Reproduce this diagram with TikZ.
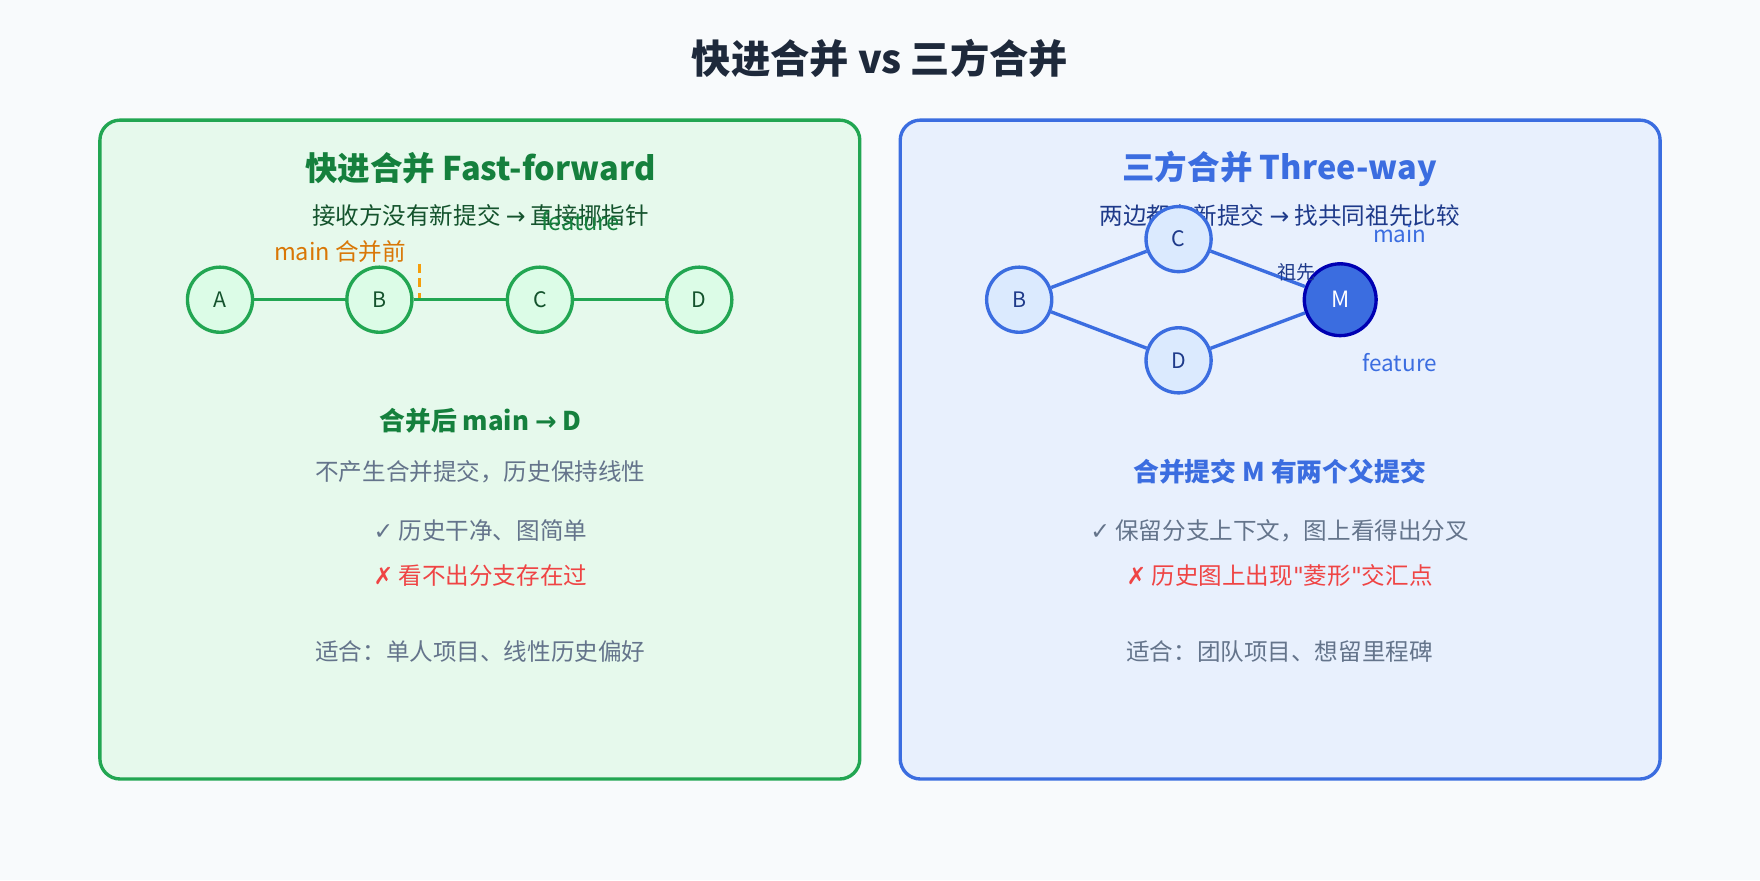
\documentclass[tikz,border=0pt]{standalone}
\usepackage{fontspec}
\setmainfont{Noto Sans CJK SC}
\newfontfamily\sym{DejaVu Sans}
\definecolor{bg}{HTML}{F8FAFC}
\definecolor{gr}{HTML}{22A652}
\definecolor{grf}{HTML}{E6F9EC}
\definecolor{grd}{HTML}{15803D}
\definecolor{grdd}{HTML}{14532D}
\definecolor{bl}{HTML}{3B6DE0}
\definecolor{blf}{HTML}{E8F0FD}
\definecolor{bld}{HTML}{1E3A8A}
\definecolor{bln}{HTML}{DBEAFE}
\definecolor{grn}{HTML}{DCFCE7}
\definecolor{gy}{HTML}{64748B}
\definecolor{rd}{HTML}{EF4444}
\definecolor{org}{HTML}{D97706}
\definecolor{orl}{HTML}{F59E0B}
\definecolor{navy}{HTML}{1E293B}
\newcommand{\fs}[1]{\fontsize{#1}{#1}\selectfont}
\begin{document}
\begin{tikzpicture}[x=0.5pt,y=-0.5pt,
  box/.style={line width=1.5pt,rounded corners=9pt},
  gnode/.style={circle,draw=gr,fill=grn,line width=1.5pt,minimum size=29pt,inner sep=0pt,text=grdd,font=\fs{9.5}},
  bnode/.style={circle,draw=bl,fill=bln,line width=1.5pt,minimum size=29pt,inner sep=0pt,text=bld,font=\fs{9.5}},
  glink/.style={draw=gr,line width=1.5pt},
  blink/.style={draw=bl,line width=1.5pt},
  txt/.style={anchor=center,inner sep=0pt}]
\fill[bg] (0,0) rectangle (1568,784);
\node[txt,font=\bfseries\fs{17.5},text=navy] (title) at (784,52) {快进合并 vs 三方合并};
% left
\draw[box,draw=gr,fill=grf] (89,107) rectangle (766,694);
\node[txt,font=\bfseries\fs{14.5},text=grd] (lt) at (428,150) {快进合并 Fast-forward};
\node[txt,font=\fs{10.5},text=grdd] (ls) at (428,192) {接收方没有新提交 {\sym →} 直接挪指针};
\node[txt,font=\fs{10.5},text=grd] (lf) at (517,197) {feature};
\node[txt,font=\fs{10.5},text=org] (lm) at (303,224) {main 合并前};
\coordinate (d1) at (374,235); \coordinate (d2) at (374,268);
\draw[orl,line width=1.5pt,dash pattern=on 4pt off 2.5pt] (d1) -- (d2);
\node[gnode] (A) at (196,267) {A};
\node[gnode] (B) at (338,267) {B};
\node[gnode] (C) at (481,267) {C};
\node[gnode] (D) at (623,267) {D};
\draw[glink] (A) -- (B); \draw[glink] (B) -- (C); \draw[glink] (C) -- (D);
\node[txt,font=\bfseries\fs{11.5},text=grd] (l1) at (428,375) {合并后 main {\sym →} D};
\node[txt,font=\fs{10.5},text=gy] (l2) at (428,420) {不产生合并提交，历史保持线性};
\node[txt,font=\fs{10.5},text=gy] (l3) at (428,473) {{\sym ✓} 历史干净、图简单};
\node[txt,font=\fs{10.5},text=rd] (l4) at (428,513) {{\sym ✗} 看不出分支存在过};
\node[txt,font=\fs{10.5},text=gy] (l5) at (428,580) {适合：单人项目、线性历史偏好};
% right
\draw[box,draw=bl,fill=blf] (802,107) rectangle (1479,694);
\node[txt,font=\bfseries\fs{14.5},text=bl] (rt) at (1140,150) {三方合并 Three-way};
\node[txt,font=\fs{10.5},text=bld] (rs) at (1140,192) {两边都有新提交 {\sym →} 找共同祖先比较};
\node[bnode] (rB) at (908,267) {B};
\node[bnode] (rC) at (1050,213) {C};
\node[bnode] (rD) at (1050,321) {D};
\node[circle,draw=blue!70!black,fill=bl,line width=1.5pt,minimum size=32pt,inner sep=0pt,text=white,font=\fs{10}] (M) at (1194,267) {M};
\draw[blink] (rB) -- (rC); \draw[blink] (rB) -- (rD);
\draw[blink] (rC) -- (M); \draw[blink] (rD) -- (M);
\node[txt,font=\fs{10},text=bl] (rm) at (1247,208) {main};
\node[txt,font=\fs{8.5},text=bld] (ra) at (1155,243) {祖先};
\node[txt,font=\fs{10},text=bl] (rf) at (1247,323) {feature};
\node[txt,font=\bfseries\fs{11.5},text=bl] (r1) at (1140,420) {合并提交 M 有两个父提交};
\node[txt,font=\fs{10.5},text=gy] (r3) at (1140,473) {{\sym ✓} 保留分支上下文，图上看得出分叉};
\node[txt,font=\fs{10.5},text=rd] (r4) at (1140,513) {{\sym ✗} 历史图上出现{\sym "}菱形{\sym "}交汇点};
\node[txt,font=\fs{10.5},text=gy] (r5) at (1140,580) {适合：团队项目、想留里程碑};
\end{tikzpicture}
\end{document}
